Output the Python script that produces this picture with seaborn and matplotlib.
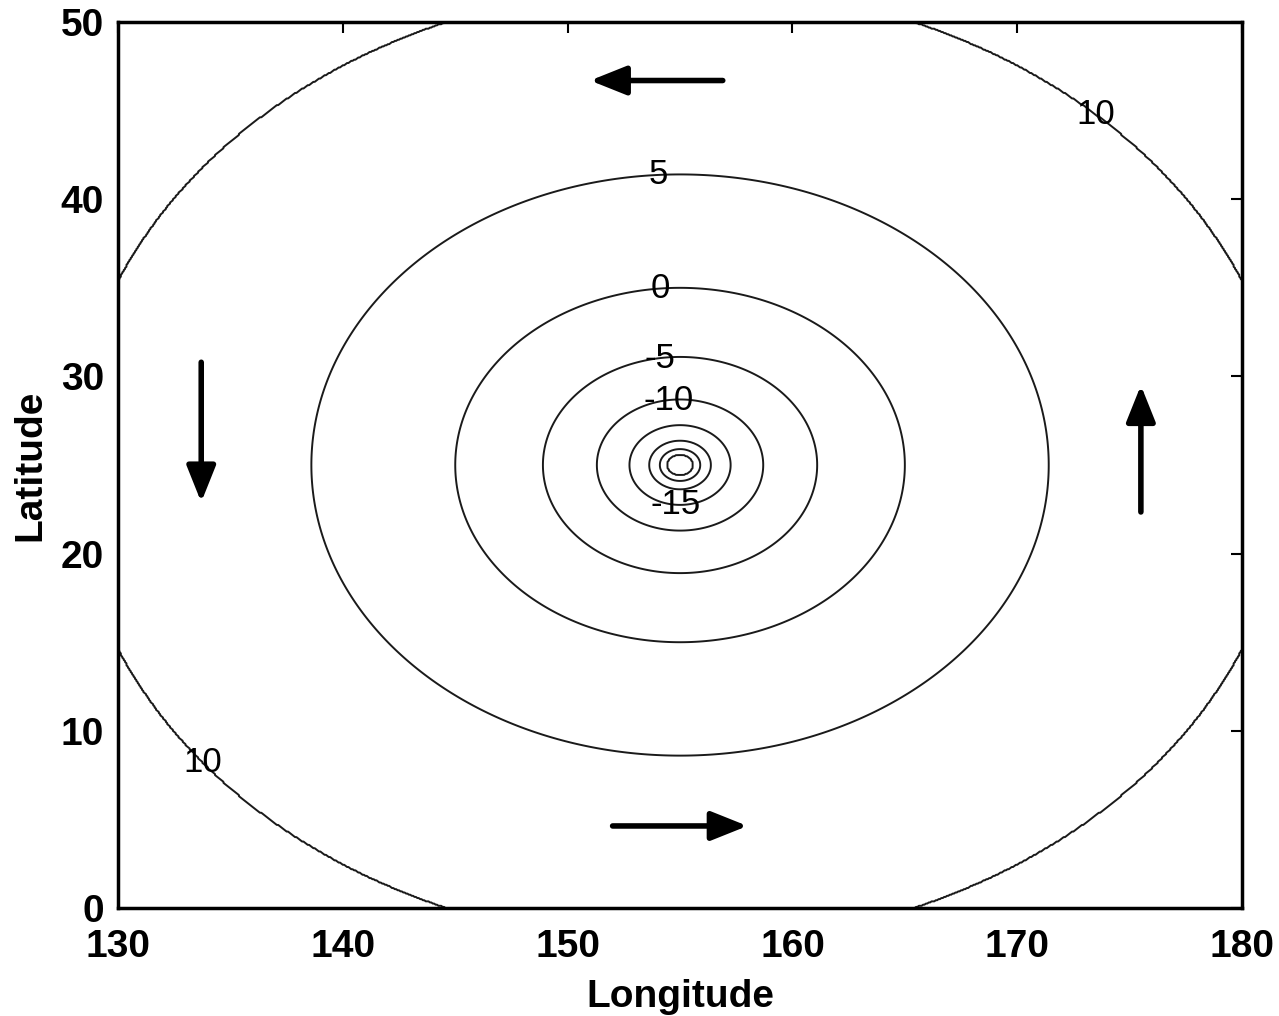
import numpy as np
import matplotlib
matplotlib.use("Agg")
import matplotlib.pyplot as plt
import seaborn as sns

# contour levels and the radius (in degrees) of each ring
levels = [-30, -25, -20, -15, -10, -5, 0, 5, 10]
radii = [0.55, 0.9, 1.37, 2.25, 3.7, 6.1, 10.0, 16.4, 27.1]
center_lon = 155
center_lat = 25

# where the contour labels sit
label_lon = [154.8, 154.5, 154.1, 154.15, 154.02, 173.37, 133.47]
label_lat = [22.74, 28.5, 31.04, 34.31, 41.31, 44.58, 7.90]

# circulation arrows (tail -> head)
arrow_tail_lon = [156.9, 152.0, 133.7, 175.5]
arrow_tail_lat = [46.7, 4.63, 30.8, 22.35]
arrow_head_lon = [151.0, 158.0, 133.7, 175.5]
arrow_head_lat = [46.7, 4.63, 22.9, 29.5]

xticks = [130, 140, 150, 160, 170, 180]
yticks = [0, 10, 20, 30, 40, 50]

sns.set_theme(style="white")
plt.rcParams["font.family"] = ["Liberation Sans", "DejaVu Sans"]
plt.rcParams["axes.unicode_minus"] = False

fig = plt.figure(figsize=(12.79, 10.16), dpi=100)
ax = fig.add_axes([0.0923, 0.1063, 0.8788, 0.872])

# field on a grid, built from the measured ring radii
lon = np.linspace(130, 180, 801)
lat = np.linspace(0, 50, 801)
LON, LAT = np.meshgrid(lon, lat)
r = np.hypot(LON - center_lon, LAT - center_lat)
Z = np.interp(np.log(np.maximum(r, 1e-3)), np.log(radii), levels,
              left=levels[0] - 5, right=levels[-1] + 5)

cs = ax.contour(LON, LAT, Z, levels=levels, colors="0.1", linewidths=1.4,
                linestyles="solid")
texts = ax.clabel(cs, inline=False, fmt="%d", fontsize=25, colors="black",
                  manual=list(zip(label_lon, label_lat)))
for t in texts:
    t.set_rotation(0)

for x0, y0, x1, y1 in zip(arrow_tail_lon, arrow_tail_lat, arrow_head_lon, arrow_head_lat):
    ax.annotate("", xy=(x1, y1), xytext=(x0, y0),
                arrowprops=dict(arrowstyle="-|>,head_length=0.55,head_width=0.22",
                                color="black", lw=4, mutation_scale=40,
                                shrinkA=0, shrinkB=0))

ax.set_xlim(130, 180)
ax.set_ylim(0, 50)
ax.set_xticks(xticks)
ax.set_yticks(yticks)
ax.tick_params(direction="in", length=8, width=1.5, top=True, right=True,
               labelsize=28, colors="black")
ax.tick_params(axis="x", pad=15)
ax.tick_params(axis="y", pad=10)
for lab in ax.get_xticklabels() + ax.get_yticklabels():
    lab.set_fontweight("bold")
for sp in ax.spines.values():
    sp.set_linewidth(2.5)
    sp.set_color("black")

ax.set_xlabel("Longitude", fontsize=28, fontweight="bold", labelpad=10, color="black")
ax.set_ylabel("Latitude", fontsize=28, fontweight="bold", labelpad=9, color="black")

fig.savefig("out.png", dpi=100)
